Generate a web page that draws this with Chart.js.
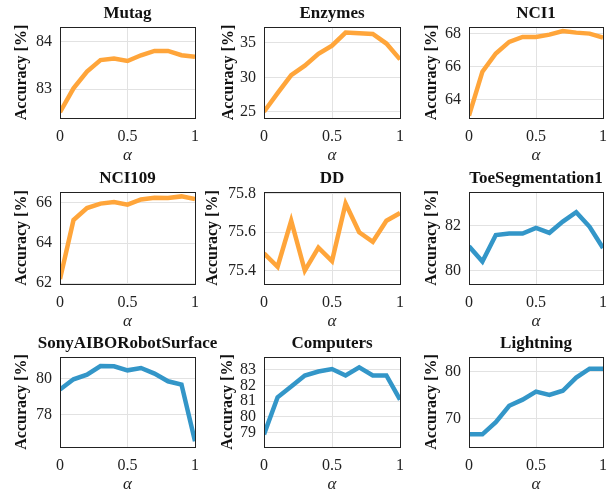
<!DOCTYPE html>
<html>
<head>
<meta charset="utf-8">
<script src="https://cdn.jsdelivr.net/npm/chart.js@4.4.1/dist/chart.umd.min.js"></script>
<style>
    body { margin: 0; background: #fff; width: 614px; height: 494px; position: relative; overflow: hidden; }
    .panel { position: absolute; }
</style>
</head>
<body>
<script>
// Valores de alpha (eje x común)
const alphaValues = [0, 0.1, 0.2, 0.3, 0.4, 0.5, 0.6, 0.7, 0.8, 0.9, 1];
const alphaTicks = [0, 0.5, 1];

// Precisión [%] por conjunto de datos
const mutagAcc = [82.52, 83.02, 83.37, 83.61, 83.64, 83.59, 83.71, 83.80, 83.80, 83.71, 83.68];
const enzymesAcc = [25.0, 27.7, 30.3, 31.7, 33.4, 34.6, 36.5, 36.4, 36.3, 34.9, 32.6];
const nci1Acc = [63.04, 65.7, 66.8, 67.5, 67.8, 67.8, 67.94, 68.16, 68.06, 68.0, 67.76];
const nci109Acc = [62.2, 65.15, 65.75, 65.97, 66.05, 65.92, 66.18, 66.26, 66.25, 66.33, 66.2];
const ddAcc = [75.49, 75.42, 75.66, 75.40, 75.52, 75.45, 75.75, 75.60, 75.55, 75.66, 75.70];
const toeAcc = [81.08, 80.4, 81.58, 81.65, 81.65, 81.9, 81.68, 82.18, 82.6, 81.95, 81.0];
const sonyAcc = [79.39, 79.96, 80.22, 80.7, 80.68, 80.46, 80.59, 80.28, 79.85, 79.67, 76.52];
const computersAcc = [78.9, 81.25, 81.93, 82.63, 82.88, 83.04, 82.63, 83.14, 82.63, 82.63, 81.1];
const lightningAcc = [66.6, 66.6, 69.2, 72.7, 74.0, 75.7, 75.0, 75.9, 78.7, 80.6, 80.6];

// Marcas del eje y
const mutagTicks = [83, 84];
const enzymesTicks = [25, 30, 35];
const nci1Ticks = [64, 66, 68];
const nci109Ticks = [62, 64, 66];
const ddTicks = [75.4, 75.6, 75.8];
const toeTicks = [80, 82];
const sonyTicks = [78, 80];
const computersTicks = [79, 80, 81, 82, 83];
const lightningTicks = [70, 80];

const ORANGE = '#FFA53A';
const BLUE = '#3396C8';
const SERIF = '"Liberation Serif", "Times New Roman", serif';

// Posiciones de las áreas de dibujo (px)
const colLeft = [60, 264, 469];
const colWidth = [135, 136, 134];
const rowTop = [27, 192, 357];
const rowHeight = [91, 92, 90];

const panels = [
    { title: 'Mutag', data: mutagAcc, ticks: mutagTicks, min: 82.4, max: 84.3, color: ORANGE, r: 0, c: 0, td: 38, yw: 55 },
    { title: 'Enzymes', data: enzymesAcc, ticks: enzymesTicks, min: 24.1, max: 37.3, color: ORANGE, r: 0, c: 1, td: 35, yw: 55 },
    { title: 'NCI1', data: nci1Acc, ticks: nci1Ticks, min: 62.9, max: 68.4, color: ORANGE, r: 0, c: 2, td: 37, yw: 55 },
    { title: 'NCI109', data: nci109Acc, ticks: nci109Ticks, min: 61.95, max: 66.55, color: ORANGE, r: 1, c: 0, td: 38, yw: 55 },
    { title: 'DD', data: ddAcc, ticks: ddTicks, min: 75.33, max: 75.81, color: ORANGE, r: 1, c: 1, td: 51, yw: 62 },
    { title: 'ToeSegmentation1', data: toeAcc, ticks: toeTicks, min: 79.4, max: 83.5, color: BLUE, r: 1, c: 2, td: 37, yw: 55 },
    { title: 'SonyAIBORobotSurface', data: sonyAcc, ticks: sonyTicks, min: 76.2, max: 81.2, color: BLUE, r: 2, c: 0, td: 38, yw: 55 },
    { title: 'Computers', data: computersAcc, ticks: computersTicks, min: 78.1, max: 83.8, color: BLUE, r: 2, c: 1, td: 36, yw: 55 },
    { title: 'Lightning', data: lightningAcc, ticks: lightningTicks, min: 63.9, max: 83.1, color: BLUE, r: 2, c: 2, td: 37, yw: 55 }
];

const TITLE_H = 27;
const XAXIS_H = 52;
const RIGHT_PAD = 26;

// Marco negro alrededor del área de dibujo y título centrado sobre ella
const boxPlugin = {
    id: 'box',
    afterDraw(chart, args, opts) {
        const a = chart.chartArea;
        const ctx = chart.ctx;
        ctx.save();
        ctx.strokeStyle = '#222';
        ctx.lineWidth = 1;
        ctx.strokeRect(Math.round(a.left) + 0.5, Math.round(a.top) + 0.5,
            Math.round(a.right - a.left), Math.round(a.bottom - a.top));
        ctx.fillStyle = '#111';
        ctx.font = 'bold 17px ' + SERIF;
        ctx.textAlign = 'center';
        ctx.textBaseline = 'middle';
        ctx.fillText(opts.text, (a.left + a.right) / 2, a.top - 13);
        ctx.restore();
    }
};

panels.forEach((p, i) => {
    const left = colLeft[p.c] - p.yw;
    const top = rowTop[p.r] - TITLE_H;
    const w = p.yw + colWidth[p.c] + RIGHT_PAD;
    const h = TITLE_H + rowHeight[p.r] + XAXIS_H;

    const div = document.createElement('div');
    div.className = 'panel';
    div.style.left = left + 'px';
    div.style.top = top + 'px';
    div.style.width = w + 'px';
    div.style.height = h + 'px';
    const canvas = document.createElement('canvas');
    canvas.id = 'chart-' + i;
    div.appendChild(canvas);
    document.body.appendChild(div);

    new Chart(canvas.getContext('2d'), {
        type: 'line',
        data: {
            labels: alphaValues,
            datasets: [{
                data: alphaValues.map((x, k) => ({ x: x, y: p.data[k] })),
                borderColor: p.color,
                backgroundColor: p.color,
                borderWidth: 4.5,
                pointRadius: 0,
                tension: 0,
                fill: false
            }]
        },
        plugins: [boxPlugin],
        options: {
            animation: false,
            responsive: true,
            maintainAspectRatio: false,
            layout: { padding: { left: 0, right: RIGHT_PAD, top: TITLE_H, bottom: 0 } },
            plugins: {
                legend: { display: false },
                tooltip: { enabled: false },
                title: { display: false },
                box: { text: p.title }
            },
            scales: {
                x: {
                    type: 'linear',
                    min: 0,
                    max: 1,
                    afterBuildTicks: s => { s.ticks = alphaTicks.map(v => ({ value: v })); },
                    afterFit: s => { s.height = XAXIS_H; },
                    ticks: {
                        callback: v => String(v),
                        color: '#222',
                        font: { family: SERIF, size: 16 },
                        padding: 9,
                        maxRotation: 0
                    },
                    grid: { color: '#e2e2e2', drawTicks: false },
                    border: { display: false },
                    title: {
                        display: true,
                        text: 'α',
                        color: '#222',
                        font: { family: SERIF, size: 17, style: 'italic' },
                        padding: { top: 0, bottom: 3.8 }
                    }
                },
                y: {
                    min: p.min,
                    max: p.max,
                    afterBuildTicks: s => { s.ticks = p.ticks.map(v => ({ value: v })); },
                    afterFit: s => { s.width = p.yw; },
                    ticks: {
                        callback: v => String(v),
                        color: '#222',
                        font: { family: SERIF, size: 16 },
                        padding: 8
                    },
                    grid: { color: '#e2e2e2', drawTicks: false },
                    border: { display: false },
                    title: {
                        display: true,
                        text: 'Accuracy [%]',
                        color: '#111',
                        font: { family: SERIF, size: 16, weight: 'bold' },
                        padding: { top: Math.max(p.yw - p.td - 9.6, 0), bottom: 0 }
                    }
                }
            }
        }
    });
});
</script>
</body>
</html>
